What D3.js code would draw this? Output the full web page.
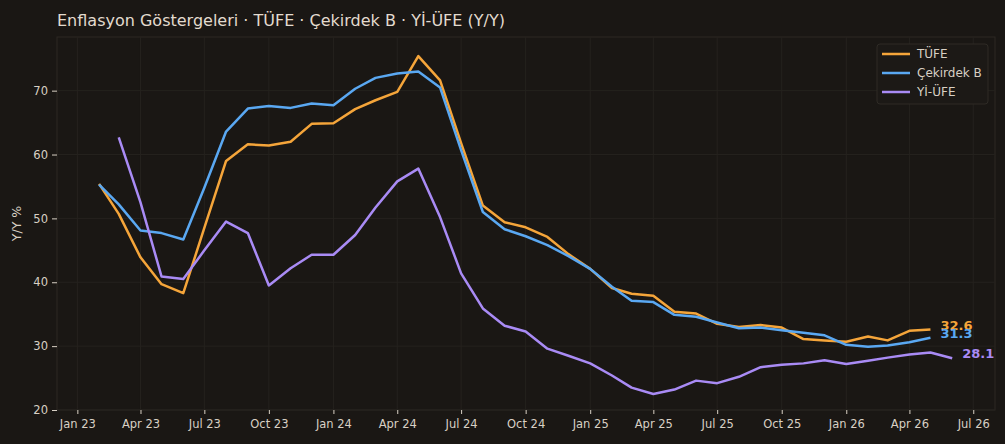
<!DOCTYPE html>
<html>
<head>
<meta charset="utf-8">
<script src="https://cdn.jsdelivr.net/npm/d3@7"></script>
<style>
  html, body { margin: 0; padding: 0; background: #1a1714; }
  svg { display: block; font-family: "DejaVu Sans", sans-serif; }
</style>
</head>
<body>
<svg id="chart" width="1005" height="444"></svg>
<script>
// monthly Y/Y series
const tufeStart = '2023-02-01';
const tufe = [55.4, 50.7, 43.9, 39.7, 38.3, 48.5, 59.0, 61.6, 61.4, 62.0, 64.8,
  64.9, 67.1, 68.5, 69.8, 75.4, 71.6, 61.8, 52.0, 49.4, 48.6, 47.1, 44.4,
  42.1, 39.1, 38.2, 37.9, 35.4, 35.1, 33.5, 33.0, 33.3, 32.9, 31.1, 30.9,
  30.7, 31.5, 30.9, 32.4, 32.6];
const cekirdekB = [55.3, 52.2, 48.1, 47.7, 46.7, 54.8, 63.6, 67.2, 67.6, 67.3, 68.0,
  67.7, 70.3, 72.0, 72.7, 73.0, 70.5, 60.7, 51.0, 48.3, 47.2, 45.8, 44.1,
  42.1, 39.3, 37.1, 36.9, 34.9, 34.6, 33.7, 32.8, 32.9, 32.5, 32.1, 31.7,
  30.2, 29.9, 30.1, 30.6, 31.3];
const yiufeStart = '2023-03-01';
const yiufe = [62.7, 52.5, 40.9, 40.5, 45.0, 49.5, 47.7, 39.5, 42.2, 44.3,
  44.3, 47.4, 51.7, 55.8, 57.8, 50.2, 41.4, 35.9, 33.2, 32.3, 29.6, 28.5,
  27.3, 25.4, 23.5, 22.5, 23.2, 24.6, 24.2, 25.2, 26.7, 27.1, 27.3, 27.8,
  27.2, 27.7, 28.2, 28.7, 29.0, 28.1];

const seriesNames = ['TÜFE', 'Çekirdek B', 'Yİ-ÜFE'];
const seriesColors = ['#f5a53a', '#5aa8f2', '#a98bf5'];
const yTicks = [20, 30, 40, 50, 60, 70];

const parse = d3.utcParse('%Y-%m-%d');
const toPoints = (start, vals) => vals.map((v, i) => ({ date: d3.utcMonth.offset(parse(start), i), value: v }));

const series = [
  { name: seriesNames[0], color: seriesColors[0], data: toPoints(tufeStart, tufe) },
  { name: seriesNames[1], color: seriesColors[1], data: toPoints(tufeStart, cekirdekB) },
  { name: seriesNames[2], color: seriesColors[2], data: toPoints(yiufeStart, yiufe) },
];

const svg = d3.select('#chart');
const margin = { top: 37, right: 10, bottom: 34, left: 57 };
const width = 1005 - margin.left - margin.right;
const height = 444 - margin.top - margin.bottom;

const x = d3.scaleUtc()
  .domain([parse('2022-12-03'), parse('2026-08-01')])
  .range([0, width]);
const y = d3.scaleLinear()
  .domain([20, 78.4])
  .range([height, 0]);

svg.append('text')
  .attr('x', 57)
  .attr('y', 26)
  .attr('fill', '#e3dbcf')
  .attr('font-size', 16)
  .text('Enflasyon Göstergeleri · TÜFE · Çekirdek B · Yİ-ÜFE (Y/Y)');

const g = svg.append('g')
  .attr('transform', `translate(${margin.left},${margin.top})`);

// plot frame
g.append('rect')
  .attr('width', width)
  .attr('height', height)
  .attr('fill', 'none')
  .attr('stroke', '#2c2823');

const xTicks = d3.utcMonth.every(3).range(parse('2023-01-01'), parse('2026-07-02'));

// grid
g.append('g')
  .selectAll('line')
  .data(xTicks)
  .join('line')
  .attr('x1', (d) => x(d)).attr('x2', (d) => x(d))
  .attr('y1', 0).attr('y2', height)
  .attr('stroke', '#25221e');
g.append('g')
  .selectAll('line')
  .data(yTicks)
  .join('line')
  .attr('x1', 0).attr('x2', width)
  .attr('y1', (d) => y(d)).attr('y2', (d) => y(d))
  .attr('stroke', '#25221e');

const xAxis = g.append('g')
  .attr('transform', `translate(0,${height})`)
  .call(d3.axisBottom(x).tickValues(xTicks).tickFormat(d3.utcFormat('%b %y')).tickSize(4).tickPadding(6));
const yAxis = g.append('g')
  .call(d3.axisLeft(y).tickValues(yTicks).tickSize(5).tickPadding(4));

[xAxis, yAxis].forEach((a) => {
  a.select('.domain').remove();
  a.selectAll('line').attr('stroke', '#d8d0c4');
  a.selectAll('text').attr('fill', '#d8d0c4').attr('font-size', 11.5).attr('font-family', '"DejaVu Sans", sans-serif');
});

svg.append('text')
  .attr('transform', `translate(21,${margin.top + height / 2}) rotate(-90)`)
  .attr('text-anchor', 'middle')
  .attr('fill', '#d8d0c4')
  .attr('font-size', 12.5)
  .text('Y/Y %');

const line = d3.line()
  .x((d) => x(d.date))
  .y((d) => y(d.value));

series.forEach((s) => {
  g.append('path')
    .datum(s.data)
    .attr('fill', 'none')
    .attr('stroke', s.color)
    .attr('stroke-width', 2.5)
    .attr('stroke-linejoin', 'round')
    .attr('d', line);

  const last = s.data[s.data.length - 1];
  g.append('text')
    .attr('x', x(last.date) + 10)
    .attr('y', y(last.value))
    .attr('fill', s.color)
    .attr('font-size', 13)
    .attr('font-weight', 'bold')
    .text(last.value.toFixed(1));
});

// legend
const legend = svg.append('g').attr('transform', 'translate(877,44)');
legend.append('rect')
  .attr('width', 111)
  .attr('height', 60)
  .attr('rx', 3)
  .attr('fill', '#1c1916')
  .attr('stroke', '#2e2a25');
series.forEach((s, i) => {
  legend.append('line')
    .attr('x1', 5).attr('x2', 33)
    .attr('y1', 10 + i * 19).attr('y2', 10 + i * 19)
    .attr('stroke', s.color)
    .attr('stroke-width', 2.5);
  legend.append('text')
    .attr('x', 40)
    .attr('y', 10 + i * 19)
    .attr('dy', '0.35em')
    .attr('fill', '#d8d0c4')
    .attr('font-size', 12)
    .text(s.name);
});
</script>
</body>
</html>
